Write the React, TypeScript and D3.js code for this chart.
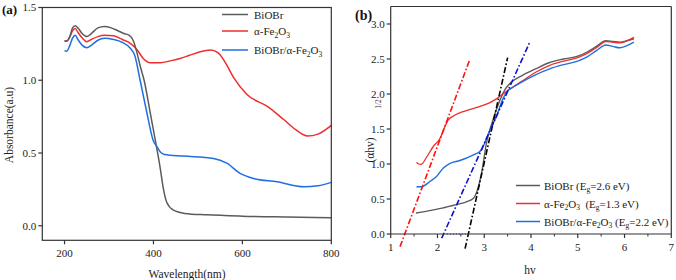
import React from "react";
import * as d3 from "d3";

// ---------- Panel (a) data: UV-vis absorbance ----------
const wlBiOBr = [200, 205, 212, 218, 224, 230, 240, 250, 260, 275, 290, 305, 320, 335, 345, 355, 362, 370, 379, 392, 404, 415, 422, 430, 445, 470, 520, 600, 700, 800];
const absBiOBr = [1.27, 1.27, 1.3, 1.36, 1.375, 1.36, 1.32, 1.3, 1.32, 1.36, 1.37, 1.36, 1.34, 1.32, 1.31, 1.27, 1.2, 1.1, 1.0, 0.79, 0.59, 0.4, 0.26, 0.16, 0.107, 0.085, 0.075, 0.066, 0.06, 0.055];

const wlFe2O3 = [200, 205, 212, 218, 224, 230, 240, 250, 260, 275, 290, 310, 330, 348, 363, 377, 393, 415, 440, 460, 480, 505, 528, 545, 560, 580, 611, 656, 693, 720, 746, 770, 800];
const absFe2O3 = [1.27, 1.27, 1.3, 1.34, 1.355, 1.33, 1.29, 1.265, 1.28, 1.3, 1.31, 1.306, 1.28, 1.254, 1.21, 1.15, 1.12, 1.12, 1.135, 1.15, 1.17, 1.196, 1.208, 1.19, 1.13, 1.02, 0.9, 0.82, 0.73, 0.66, 0.617, 0.63, 0.69];

const wlComp = [200, 205, 212, 218, 224, 230, 240, 250, 260, 275, 290, 310, 330, 348, 358, 370, 385, 399, 408, 416, 425, 467, 535, 565, 595, 625, 678, 738, 770, 800];
const absComp = [1.203, 1.2, 1.24, 1.29, 1.31, 1.28, 1.24, 1.224, 1.24, 1.275, 1.288, 1.28, 1.26, 1.22, 1.17, 1.0, 0.78, 0.59, 0.543, 0.505, 0.49, 0.479, 0.463, 0.43, 0.36, 0.325, 0.302, 0.268, 0.275, 0.298];

const aXTicks = [200, 400, 600, 800];
const aYTicks = [0.0, 0.5, 1.0, 1.5];

// ---------- Panel (b) data: Tauc plot ----------
const hvBiOBr = [1.54, 1.8, 2.1, 2.4, 2.62, 2.77, 2.84, 2.91, 2.97, 3.01, 3.06, 3.15, 3.3, 3.45, 3.6, 3.8, 4.1, 4.4, 4.7, 5.0, 5.2, 5.4, 5.6, 5.75, 5.9, 6.05, 6.2];
const tBiOBr = [0.3, 0.33, 0.37, 0.42, 0.46, 0.51, 0.6, 0.77, 0.97, 1.15, 1.34, 1.55, 1.85, 2.07, 2.18, 2.26, 2.36, 2.45, 2.5, 2.54, 2.6, 2.68, 2.76, 2.75, 2.74, 2.76, 2.79];

const hvFe2O3 = [1.55, 1.6, 1.65, 1.77, 1.91, 2.05, 2.15, 2.23, 2.35, 2.6, 2.9, 3.1, 3.26, 3.4, 3.55, 3.8, 4.1, 4.4, 4.7, 5.0, 5.2, 5.4, 5.6, 5.75, 5.9, 6.05, 6.2];
const tFe2O3 = [1.02, 1.0, 0.995, 1.1, 1.25, 1.36, 1.52, 1.63, 1.69, 1.76, 1.82, 1.87, 1.93, 2.0, 2.07, 2.18, 2.31, 2.41, 2.47, 2.52, 2.58, 2.66, 2.75, 2.74, 2.73, 2.76, 2.81];

const hvComp = [1.55, 1.66, 1.84, 1.98, 2.12, 2.27, 2.48, 2.77, 2.94, 3.01, 3.1, 3.26, 3.4, 3.48, 3.62, 3.8, 4.05, 4.4, 4.7, 5.0, 5.2, 5.4, 5.6, 5.75, 5.9, 6.05, 6.2];
const tComp = [0.676, 0.676, 0.75, 0.82, 0.94, 1.01, 1.05, 1.13, 1.2, 1.3, 1.45, 1.68, 1.93, 2.03, 2.1, 2.17, 2.26, 2.36, 2.42, 2.47, 2.53, 2.62, 2.7, 2.68, 2.66, 2.69, 2.74];

// tangent (fit) lines: [hv, value] endpoints
const fitFe2O3 = [[1.2, -0.18], [2.69, 2.49]];
const fitBiOBr = [[2.59, -0.21], [3.5, 2.52]];
const fitComp = [[2.09, -0.06], [3.98, 2.75]];
const axisDots = [[2.2, 0], [2.65, 0]];

const bXTicks = [1, 2, 3, 4, 5, 6, 7];
const bXMinor = [1.5, 2.5, 3.5, 4.5, 5.5, 6.5];
const bYTicks = [0.0, 0.5, 1.0, 1.5, 2.0, 2.5, 3.0];

const FONT = "'Liberation Serif', 'DejaVu Serif', serif";
const GRAY = "#5b5b5b";
const RED = "#f02d2d";
const BLUE = "#1f6fe3";
const AXIS = "#333";

function zip(xs: number[], ys: number[]): [number, number][] {
  return xs.map((x, i) => [x, ys[i]] as [number, number]);
}

export default function App() {
  // panel a scales
  const ax = d3.scaleLinear().domain([150, 800]).range([42.3, 331.3]);
  const ay = d3.scaleLinear().domain([-0.1, 1.5]).range([240.3, 7.5]);
  const aLine = d3
    .line<[number, number]>()
    .x((d) => ax(d[0]))
    .y((d) => ay(d[1]))
    .curve(d3.curveMonotoneX);

  // panel b scales
  const bx = d3.scaleLinear().domain([1, 7]).range([390.7, 671.3]);
  const by = d3.scaleLinear().domain([0, 3.25]).range([234, 6.5]);
  const bLine = d3
    .line<[number, number]>()
    .x((d) => bx(d[0]))
    .y((d) => by(d[1]))
    .curve(d3.curveMonotoneX);
  const straight = d3
    .line<number[]>()
    .x((d) => bx(d[0]))
    .y((d) => by(d[1]));

  const dashDot = "6,2.2,1.6,2.2";

  return (
    <svg width={676} height={280} style={{ position: "absolute", left: 0, top: 0, background: "#fff" }} fontFamily={FONT}>
      {/* ================= Panel (a) ================= */}
      <g>
        <path d={aLine(zip(wlFe2O3, absFe2O3)) || ""} fill="none" stroke={RED} strokeWidth={1.5} />
        <path d={aLine(zip(wlBiOBr, absBiOBr)) || ""} fill="none" stroke={GRAY} strokeWidth={1.5} />
        <path d={aLine(zip(wlComp, absComp)) || ""} fill="none" stroke={BLUE} strokeWidth={1.5} />

        {/* frame */}
        <rect x={ax(150)} y={ay(1.5)} width={ax(800) - ax(150)} height={ay(-0.1) - ay(1.5)} fill="none" stroke={AXIS} strokeWidth={1.2} />

        {aXTicks.map((t) => (
          <g key={"ax" + t}>
            <line x1={ax(t)} x2={ax(t)} y1={ay(-0.1)} y2={ay(-0.1) + 4} stroke={AXIS} strokeWidth={1.2} />
            <text x={ax(t)} y={257} fontSize={11} textAnchor="middle" fill="#222">{t}</text>
          </g>
        ))}
        {aYTicks.map((t) => (
          <g key={"ay" + t}>
            <line x1={ax(150) - 4} x2={ax(150)} y1={ay(t)} y2={ay(t)} stroke={AXIS} strokeWidth={1.2} />
            <text x={ax(150) - 6} y={ay(t) + 3.8} fontSize={11} textAnchor="end" fill="#222">{t.toFixed(1)}</text>
          </g>
        ))}

        <text x={2} y={14} fontSize={13} fontWeight="bold" fill="#111">(a)</text>
        <text x={187} y={278} fontSize={11.5} textAnchor="middle" fill="#222">Wavelength(nm)</text>
        <text transform="translate(13,125) rotate(-90)" fontSize={11.5} textAnchor="middle" fill="#222">Absorbance(a.u)</text>

        {/* legend */}
        <line x1={222} x2={248} y1={14.5} y2={14.5} stroke={GRAY} strokeWidth={1.5} />
        <text x={254} y={18.5} fontSize={11} fill="#222">BiOBr</text>
        <line x1={222} x2={248} y1={31} y2={31} stroke={RED} strokeWidth={1.5} />
        <text x={254} y={35} fontSize={11} fill="#222">
          α-Fe<tspan fontSize={7.5} dy={2.5}>2</tspan><tspan dy={-2.5}>O</tspan><tspan fontSize={7.5} dy={2.5}>3</tspan>
        </text>
        <line x1={222} x2={248} y1={50} y2={50} stroke={BLUE} strokeWidth={1.5} />
        <text x={254} y={54} fontSize={11} fill="#222">
          BiOBr/α-Fe<tspan fontSize={7.5} dy={2.5}>2</tspan><tspan dy={-2.5}>O</tspan><tspan fontSize={7.5} dy={2.5}>3</tspan>
        </text>
      </g>

      {/* ================= Panel (b) ================= */}
      <g>
        <path d={bLine(zip(hvBiOBr, tBiOBr)) || ""} fill="none" stroke={GRAY} strokeWidth={1.4} />
        <path d={bLine(zip(hvFe2O3, tFe2O3)) || ""} fill="none" stroke={RED} strokeWidth={1.3} />
        <path d={bLine(zip(hvComp, tComp)) || ""} fill="none" stroke={BLUE} strokeWidth={1.4} />

        <path d={straight(fitFe2O3) || ""} fill="none" stroke="#ff1010" strokeWidth={1.6} strokeDasharray={dashDot} />
        <path d={straight(fitBiOBr) || ""} fill="none" stroke="#000" strokeWidth={1.6} strokeDasharray={dashDot} />
        <path d={straight(fitComp) || ""} fill="none" stroke="#1010d0" strokeWidth={1.6} strokeDasharray={dashDot} />
        <path d={straight(axisDots) || ""} fill="none" stroke="#1010d0" strokeWidth={1.2} strokeDasharray="1,2" />

        {/* frame */}
        <line x1={bx(1)} x2={bx(7)} y1={by(3.25)} y2={by(3.25)} stroke={AXIS} strokeWidth={1.2} />
        <line x1={bx(7)} x2={bx(7)} y1={by(3.25)} y2={by(0)} stroke={AXIS} strokeWidth={1.2} />
        <line x1={bx(1)} x2={bx(1)} y1={by(3.25)} y2={by(0)} stroke={AXIS} strokeWidth={1.2} />
        <line x1={bx(1)} x2={bx(7)} y1={by(0)} y2={by(0)} stroke={AXIS} strokeWidth={1.2} />

        {bXTicks.map((t) => (
          <g key={"bx" + t}>
            <line x1={bx(t)} x2={bx(t)} y1={by(0)} y2={by(0) + 4} stroke={AXIS} strokeWidth={1.2} />
            <text x={bx(t)} y={251} fontSize={11} textAnchor="middle" fill="#222">{t}</text>
          </g>
        ))}
        {bXMinor.map((t) => (
          <line key={"bxm" + t} x1={bx(t)} x2={bx(t)} y1={by(0)} y2={by(0) + 2.5} stroke={AXIS} strokeWidth={1} />
        ))}
        {bYTicks.map((t) => (
          <g key={"by" + t}>
            <line x1={bx(1) - 4} x2={bx(1)} y1={by(t)} y2={by(t)} stroke={AXIS} strokeWidth={1.2} />
            <text x={bx(1) - 6} y={by(t) + 3.8} fontSize={11} textAnchor="end" fill="#222">{t.toFixed(1)}</text>
          </g>
        ))}

        <text x={355} y={20} fontSize={14} fontWeight="bold" fill="#111">(b)</text>
        <text x={530} y={274} fontSize={11.5} textAnchor="middle" fill="#222">hv</text>
        <text transform="translate(374,150) rotate(-90)" fontSize={11.5} textAnchor="middle" fill="#222">(αhv)</text>
        <text transform="translate(381,104) rotate(-90)" fontSize={7.5} textAnchor="middle" fill="#222">1/2</text>

        {/* legend */}
        <line x1={516} x2={540} y1={185.5} y2={185.5} stroke={GRAY} strokeWidth={1.5} />
        <text x={544} y={189.5} fontSize={11} fill="#222">
          BiOBr (E<tspan fontSize={7.5} dy={2.5}>g</tspan><tspan dy={-2.5}>=2.6 eV)</tspan>
        </text>
        <line x1={516} x2={540} y1={203.5} y2={203.5} stroke={RED} strokeWidth={1.5} />
        <text x={544} y={207.5} fontSize={11} fill="#222">
          α-Fe<tspan fontSize={7.5} dy={2.5}>2</tspan><tspan dy={-2.5}>O</tspan><tspan fontSize={7.5} dy={2.5}>3</tspan>
          <tspan dy={-2.5} xmlSpace="preserve">{"  (E"}</tspan><tspan fontSize={7.5} dy={2.5}>g</tspan><tspan dy={-2.5}>=1.3 eV)</tspan>
        </text>
        <line x1={516} x2={540} y1={221.5} y2={221.5} stroke={BLUE} strokeWidth={1.5} />
        <text x={544} y={225.5} fontSize={11} fill="#222">
          BiOBr/α-Fe<tspan fontSize={7.5} dy={2.5}>2</tspan><tspan dy={-2.5}>O</tspan><tspan fontSize={7.5} dy={2.5}>3</tspan>
          <tspan dy={-2.5}>{" (E"}</tspan><tspan fontSize={7.5} dy={2.5}>g</tspan><tspan dy={-2.5}>=2.2 eV)</tspan>
        </text>
      </g>
    </svg>
  );
}
